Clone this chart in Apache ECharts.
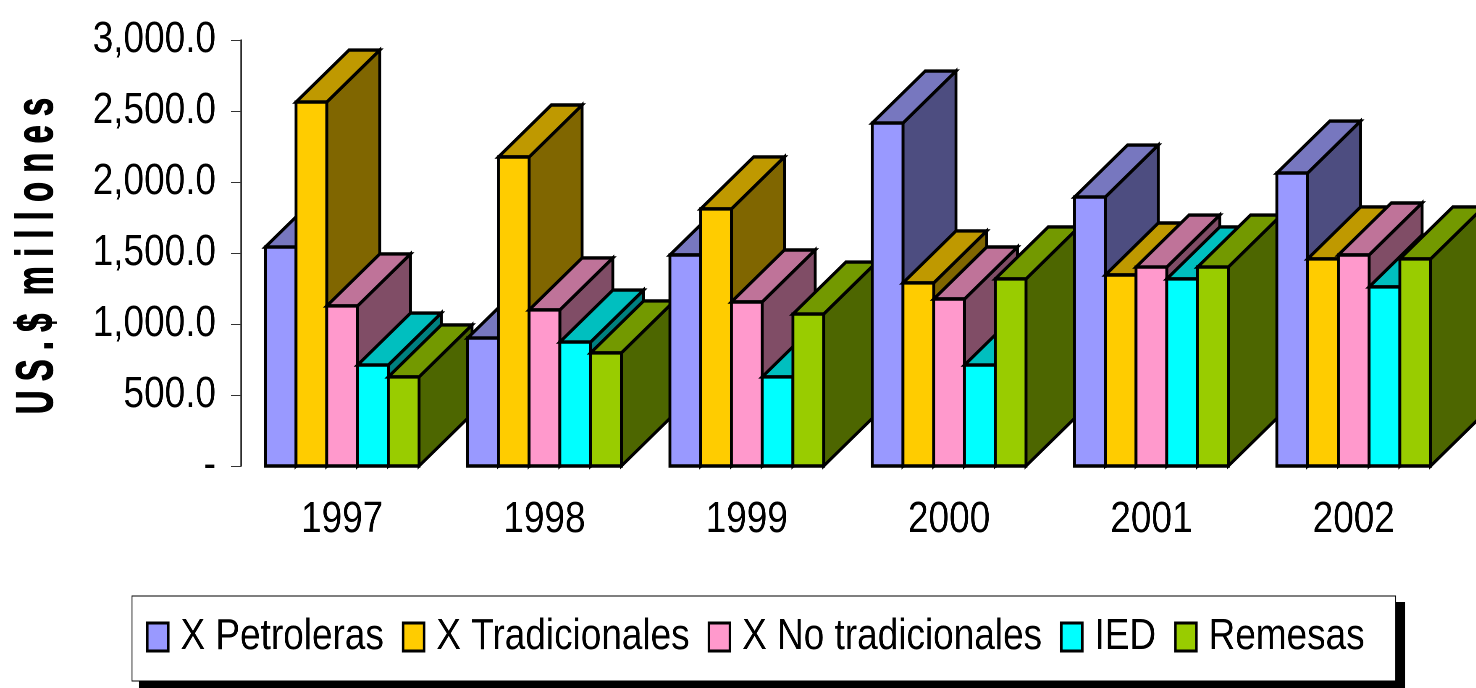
<!DOCTYPE html>
<html>
<head>
<meta charset="utf-8">
<style>
html,body{margin:0;padding:0;background:#fff;width:1476px;height:688px;overflow:hidden}
#c{width:1757px;height:688px;transform:scaleX(0.84);transform-origin:0 0}
</style>
<script src="https://cdn.jsdelivr.net/npm/echarts@6/dist/echarts.min.js"></script>
</head>
<body>
<div id="c"></div>
<script>
const years = ['1997','1998','1999','2000','2001','2002'];
const seriesNames = ['X Petroleras','X Tradicionales','X No tradicionales','IED','Remesas'];
const petroleras = [1542, 901, 1486, 2415, 1894, 2063];
const tradicionales = [2563, 2176, 1810, 1289, 1345, 1458];
const noTradicionales = [1127, 1099, 1155, 1176, 1401, 1486];
const ied = [711, 873, 627, 711, 1317, 1261];
const remesas = [627, 796, 1070, 1317, 1401, 1458];
const seriesValues = [petroleras, tradicionales, noTradicionales, ied, remesas];
const frontColors = ['#9999FF','#FFCC00','#FF99CC','#00FFFF','#99CC00'];
const topColors = ['#7777BF','#BF9900','#BF7399','#00BFBF','#739900'];
const sideColors = ['#4D4D80','#806600','#804D66','#008080','#4D6600'];
const yTitle = 'U S . $  m i l l o n e s';

// The page is squeezed horizontally by K, like the narrow lettering of the reference.
const K = 0.84;
const FONT = '"Liberation Sans",Arial,sans-serif';
const DX = 53 / K, DY = 52, GROUP = 0.76, EDGE = 3.4;

function renderBar(params, api) {
  const s = params.seriesIndex;
  const cat = api.value(0);
  const base = api.coord([cat, 0]);
  const top = api.coord([cat, api.value(1)]);
  const band = api.size([1, 0])[0];
  const w = band * GROUP / 5;
  const x0 = base[0] - band * GROUP / 2 + s * w;
  const x1 = x0 + w;
  const yb = base[1], yt = top[1];
  const z = cat * 10 + s;
  const st = fill => ({fill, stroke:'#000', lineWidth:EDGE, lineJoin:'miter'});
  return {
    type:'group',
    children:[
      {type:'polygon', z2:z, shape:{points:[[x1,yb],[x1+DX,yb-DY],[x1+DX,yt-DY],[x1,yt]]}, style:st(sideColors[s])},
      {type:'polygon', z2:z, shape:{points:[[x0,yt],[x0+DX,yt-DY],[x1+DX,yt-DY],[x1,yt]]}, style:st(topColors[s])},
      {type:'rect', z2:z, shape:{x:x0,y:yt,width:w,height:yb-yt}, style:st(frontColors[s])}
    ]
  };
}

const chart = echarts.init(document.getElementById('c'), null, {renderer:'canvas', devicePixelRatio:2});
chart.setOption({
  animation:false,
  backgroundColor:'#fff',
  grid:{left:241/K,right:21/K,top:40,height:426,containLabel:false,outerBoundsMode:'none'},
  legend:{
    left:132/K, top:596,
    orient:'horizontal',
    data:seriesNames,
    icon:'rect',
    itemWidth:21/K, itemHeight:28, itemGap:18/K,
    padding:[19,31/K,22,14/K],
    backgroundColor:'#fff',
    borderColor:'#000', borderWidth:1,
    itemStyle:{borderColor:'#000',borderWidth:3},
    textStyle:{fontFamily:FONT,fontSize:44,color:'#000',padding:[0,0,0,8/K]}
  },
  xAxis:{
    type:'category', data:years,
    axisLine:{show:false}, axisTick:{show:false},
    axisLabel:{fontFamily:FONT,fontSize:44,color:'#000',margin:32}
  },
  yAxis:{
    type:'value', min:0, max:3000, interval:500,
    splitLine:{show:false},
    axisLine:{show:true,onZero:false,lineStyle:{color:'#000',width:1.6}},
    axisTick:{show:true,length:10/K,lineStyle:{color:'#333',width:1}},
    axisLabel:{
      fontFamily:FONT,fontSize:44,color:'#000',margin:25/K,
      formatter:v=> v===0 ? '-' : v.toLocaleString('en-US',{minimumFractionDigits:1,maximumFractionDigits:1})
    }
  },
  graphic:[
    {type:'rect', z:0, shape:{x:139/K,y:602,width:1266/K,height:86}, style:{fill:'#000'}},
    {type:'text', z:5, x:38/K, y:256, rotation:Math.PI/2, scaleX:0.633, scaleY:1/K,
     style:{text:yTitle, fontFamily:FONT, fontSize:52, fontWeight:'bold', fill:'#000', stroke:'#000', lineWidth:1, align:'center', verticalAlign:'middle'}}
  ],
  series:seriesNames.map((name,s)=>({
    name, type:'custom', coordinateSystem:'cartesian2d',
    renderItem:renderBar, encode:{x:0,y:1}, clip:false,
    itemStyle:{color:frontColors[s]},
    data:seriesValues[s].map((v,i)=>[i,v])
  }))
});
</script>
</body>
</html>
